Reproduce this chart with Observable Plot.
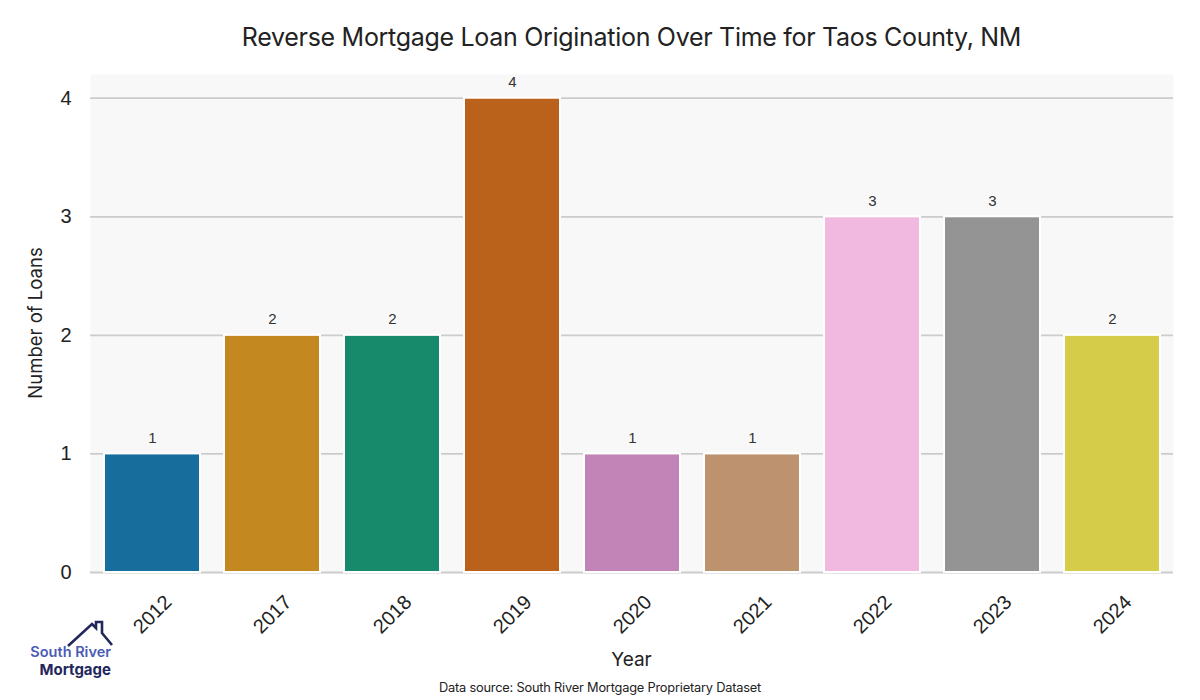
<!DOCTYPE html>
<html>
<head>
<meta charset="utf-8">
<script src="https://cdn.jsdelivr.net/npm/d3@7"></script>
<script src="https://cdn.jsdelivr.net/npm/@observablehq/plot@0.6"></script>
<style>
  html, body { margin: 0; padding: 0; background: #ffffff; }
  #wrap { position: relative; width: 1200px; height: 700px; overflow: hidden; }
  #chart { position: absolute; left: 0; top: 0; }
  .title { position: absolute; left: 90px; width: 1083px; top: 22px; text-align: center;
           font-family: Inter, Lato, sans-serif; font-size: 25px; color: #222; letter-spacing: -0.3px; }
  .xlabel { position: absolute; left: 90px; width: 1083px; top: 648px; text-align: center;
            font-family: Inter, Lato, sans-serif; font-size: 19px; color: #222; }
  .ylabel { position: absolute; left: 35px; top: 323px; transform: translate(-50%, -50%) rotate(-90deg);
            white-space: nowrap; font-family: Inter, Lato, sans-serif; font-size: 18.5px; color: #222; }
  .caption { position: absolute; left: 0; width: 1200px; top: 680px; text-align: center;
             font-family: Inter, Lato, sans-serif; font-size: 12.8px; color: #222; letter-spacing: -0.2px; }
  .logo { position: absolute; left: 18px; top: 618px; width: 110px; height: 62px; }
</style>
</head>
<body>
<div id="wrap">
  <div id="chart"></div>
  <div class="title">Reverse Mortgage Loan Origination Over Time for Taos County, NM</div>
  <div class="ylabel">Number of Loans</div>
  <div class="xlabel">Year</div>
  <div class="caption">Data source: South River Mortgage Proprietary Dataset</div>
  <svg class="logo" viewBox="18 618 110 62" width="110" height="62">
    <path d="M68,646 L92,624 L96,628 L96,622 L102,622 L102,633 L112,645" fill="none" stroke="#23285c" stroke-width="2.6" stroke-linejoin="miter"/>
    <text x="111" y="657" text-anchor="end" font-family="Inter, Lato, sans-serif" font-weight="600" font-size="14.5" fill="#4a5cb4">South River</text>
    <text x="111" y="675" text-anchor="end" font-family="Inter, Lato, sans-serif" font-weight="700" font-size="15" fill="#23285c">Mortgage</text>
  </svg>
</div>
<script>
const years = ["2012", "2017", "2018", "2019", "2020", "2021", "2022", "2023", "2024"];
const loans = [1, 2, 2, 4, 1, 1, 3, 3, 2];
const barColors = ["#176d9c", "#c38820", "#168a6a", "#ba611b", "#c283b6", "#bd926e", "#f2b9e0", "#949494", "#d5cd4a"];
const yTicks = [0, 1, 2, 3, 4];

const data = years.map((y, i) => ({year: y, count: loans[i]}));

const chart = Plot.plot({
  width: 1200,
  height: 700,
  marginTop: 74,
  marginBottom: 128,
  marginLeft: 90,
  marginRight: 27,
  style: {background: "transparent"},
  x: {type: "band", domain: years, paddingInner: 0.2, paddingOuter: 0.1, axis: null},
  y: {domain: [0, 4.2], axis: null},
  color: {domain: years, range: barColors},
  marks: [
    Plot.frame({fill: "#f8f8f8", stroke: null}),
    Plot.ruleY(yTicks, {stroke: "#cccccc", strokeWidth: 1.8}),
    Plot.barY(data, {x: "year", y: "count", fill: "year", stroke: "#ffffff", strokeWidth: 2}),
    Plot.text(data, {x: "year", y: "count", text: d => String(d.count), dy: -11, lineAnchor: "bottom",
      fontSize: 15, fill: "#333", fontFamily: "Liberation Sans, Arial, sans-serif"}),
    Plot.axisY(yTicks, {tickSize: 0, tickPadding: 19, fontSize: 20, fill: "#222",
      fontFamily: "Liberation Sans, Arial, sans-serif", label: null, tickFormat: d => String(d)}),
    Plot.text(years, {x: d => d, frameAnchor: "bottom", dy: 42, rotate: -45, textAnchor: "middle",
      lineAnchor: "middle", text: d => d, fontSize: 20, fill: "#222",
      fontFamily: "Liberation Sans, Arial, sans-serif"})
  ]
});
document.getElementById("chart").appendChild(chart);
</script>
</body>
</html>
